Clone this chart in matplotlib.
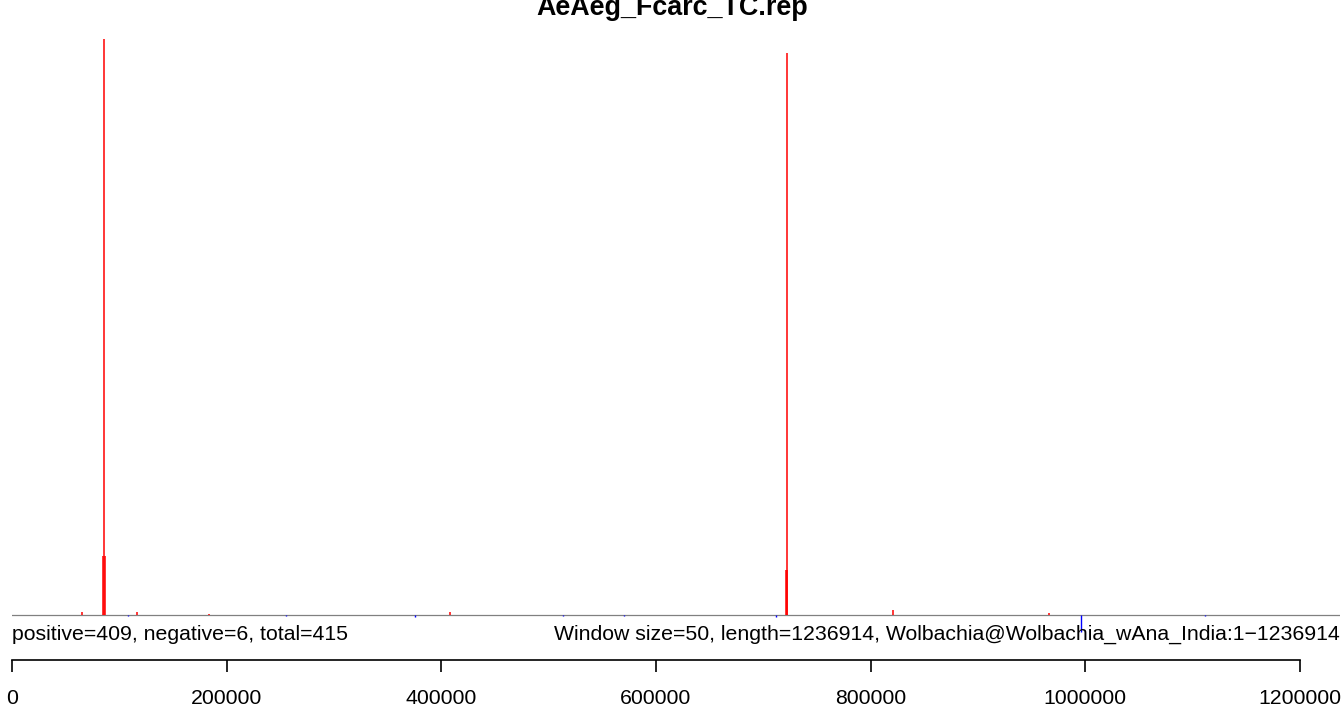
import matplotlib
matplotlib.use("Agg")
import matplotlib.pyplot as plt
import numpy as np

plt.rcParams['font.family'] = ['Liberation Sans', 'DejaVu Sans']

# genome / window info
seq_len = 1236914
win_size = 50
title = "AeAeg_Fcarc_TC.rep"
left_note = "positive=409, negative=6, total=415"
right_note = "Window size=50, length=1236914, Wolbachia@Wolbachia_wAna_India:1\u22121236914"

# positive windows (position in bp, count)
pos_x = [64900, 85200, 86000, 86800, 116500, 183500, 408100, 721200, 721800, 722300, 820800, 965900]
pos_y = [1, 17, 166, 17, 1, 0.4, 1, 13, 162, 13, 1.5, 0.5]
# negative windows
neg_x = [107800, 255300, 375500, 513400, 570200, 711800, 996000, 1111500]
neg_y = [-0.3, -0.3, -0.5, -0.3, -0.3, -0.5, -5, -0.3]

tick_vals = [0, 200000, 400000, 600000, 800000, 1000000, 1200000]

W, H = 1344, 711
fig = plt.figure(figsize=(W / 100, H / 100), dpi=100)

px_unit = 3.47
top_px, bot_px, base_px = 30, 640, 615
x0_px, x1_px = 12, 1339.6

ax = fig.add_axes([x0_px / W, (H - bot_px) / H, (x1_px - x0_px) / W, (bot_px - top_px) / H])
ax.set_xlim(0, seq_len)
ax.set_ylim(-(bot_px - base_px) / px_unit, (base_px - top_px) / px_unit)
ax.axis('off')

ax.axhline(0, color='#808080', lw=0.9, zorder=1)
ax.vlines(pos_x, 0, pos_y, colors='#ff0000', lw=1.1, zorder=2)
ax.vlines(neg_x, 0, neg_y, colors='#0000ff', lw=1.0, zorder=4)

# bottom scale axis
ax2 = fig.add_axes([x0_px / W, (H - 660) / H, (x1_px - x0_px) / W, 0.01])
ax2.set_xlim(0, seq_len)
ax2.patch.set_visible(False)
for s in ['top', 'left', 'right']:
    ax2.spines[s].set_visible(False)
ax2.spines['bottom'].set_bounds(0, 1200000)
ax2.spines['bottom'].set_linewidth(1.2)
ax2.set_yticks([])
ax2.set_xticks(tick_vals)
ax2.set_xticklabels([str(v) for v in tick_vals], fontsize=15.3)
ax2.tick_params(axis='x', direction='out', length=8.6, width=1.2, pad=12)

fig.text(x0_px / W, (H - 625) / H, left_note, fontsize=15.3, ha='left', va='top')
fig.text(x1_px / W, (H - 625) / H, right_note, fontsize=15.3, ha='right', va='top')
fig.text(0.5, (H - 15) / H, title, fontsize=19.4, fontweight='bold', ha='center', va='baseline')

fig.savefig("out.png", dpi=100)
